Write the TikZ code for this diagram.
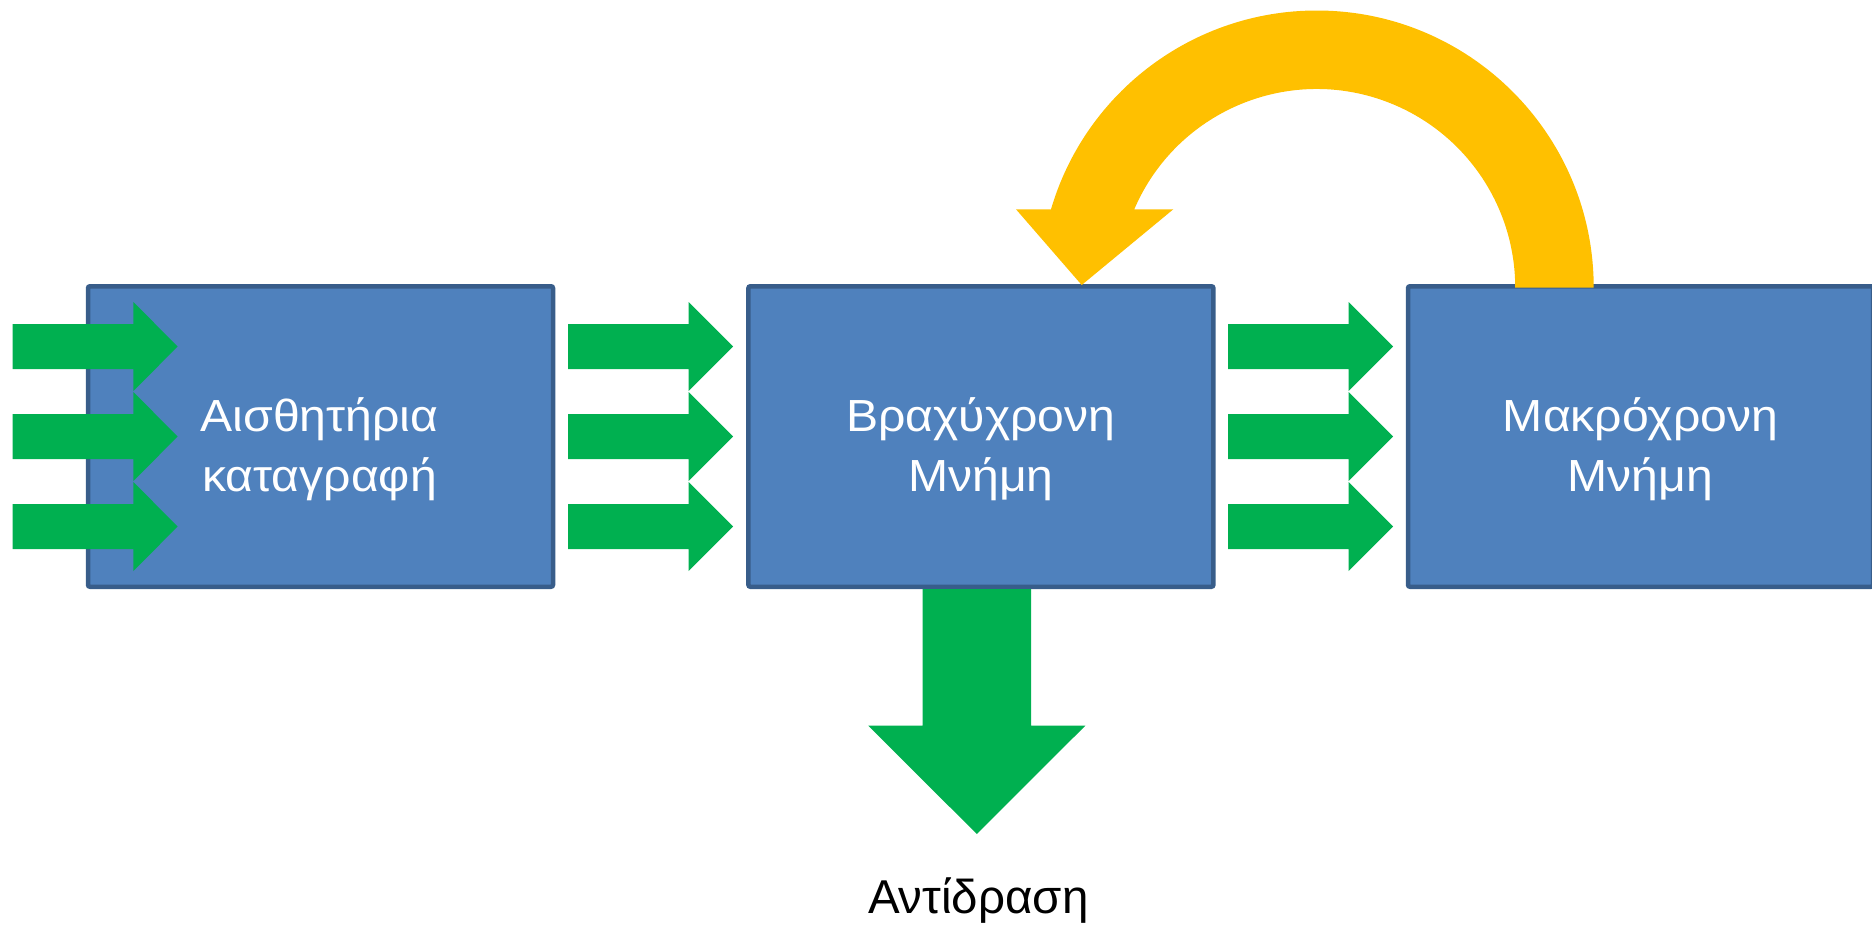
\documentclass[tikz,border=0pt]{standalone}
\usepackage{fontspec}
\usetikzlibrary{calc}
\setmainfont{Liberation Sans}
\newfontfamily\boxfont[FakeStretch=1.07]{Liberation Sans}
\definecolor{boxfill}{HTML}{4F81BD}
\definecolor{boxline}{HTML}{385D8A}
\definecolor{arrgreen}{HTML}{00B050}
\definecolor{arryellow}{HTML}{FFC000}
\begin{document}
\begin{tikzpicture}[x=1pt,y=-1pt,
  membox/.style={draw=boxline,fill=boxfill,line width=4.5pt,rounded corners=2pt,
    minimum width=465pt,minimum height=300.5pt,inner sep=0pt},
  boxtext/.style={text=white,align=center,font=\boxfont\fontsize{45}{60}\selectfont,inner sep=0pt},
  rarr/.pic={\fill[arrgreen] (0,-22.5) -- (120.6,-22.5) -- (120.6,-44.5) -- (165,0)
      -- (120.6,44.5) -- (120.6,22.5) -- (0,22.5) -- cycle;}]
\useasboundingbox (0,0) rectangle (1872,924);
% boxes
\node[membox] (sens) at (320.5,436.5) {};
\node[membox] (stm) at (980.9,436.5) {};
\node[membox] (ltm) at (1640.5,436.5) {};
\node[boxtext] (senst) at ($(sens.center)+(-1,12.5)$) {Αισθητήρια\\καταγραφή};
\node[boxtext] (stmt) at ($(stm.center)+(0,12.5)$) {Βραχύχρονη\\Μνήμη};
\node[boxtext] (ltmt) at ($(ltm.center)+(0,12.5)$) {Μακρόχρονη\\Μνήμη};
% green arrows
\foreach \yy in {346.5,436.5,526.5}{
  \pic at (12.7,\yy) {rarr};
  \pic at (568,\yy) {rarr};
  \pic at (1228,\yy) {rarr};
}
% down arrow
\fill[arrgreen] (922.7,589) -- (1031,589) -- (1031,725.7) -- (1085.3,725.7) -- (976.8,834)
  -- (868.3,725.7) -- (922.7,725.7) -- cycle;
\node[anchor=base,font=\fontsize{47.5}{57}\selectfont,inner sep=0pt] (resp) at (978.3,913.3) {Αντίδραση};
% yellow curved arrow
\coordinate (cc) at (1316.7,287.5);
\fill[arryellow] ($(cc)+(277,0)$) arc[start angle=0,end angle=-163.6,radius=277]
  -- (1016,209.3) -- (1081.7,285) -- (1173.3,209.3)
  -- ($(cc)+(-156.8:198.5)$) arc[start angle=-156.8,end angle=0,radius=198.5] -- cycle;
\end{tikzpicture}
\end{document}
